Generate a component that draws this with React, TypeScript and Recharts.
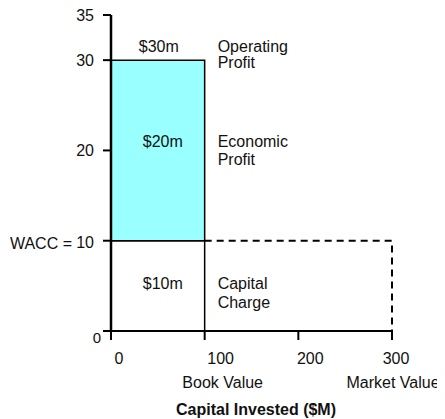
import React from "react";
import {
  ComposedChart,
  XAxis,
  YAxis,
  Line,
  ReferenceArea,
  Label,
} from "recharts";

// values
const X_TICKS = [0, 100, 200, 300];
const X_TICK_NOTES = ["", "Book Value", "", "Market Value"];
const Y_TICKS = [0, 10, 20, 30, 35];

const BOOK_VALUE = 100;
const MARKET_VALUE = 300;
const WACC = 10;
const OPERATING_PROFIT = 30;
const CAPITAL_CHARGE = (WACC / 100) * BOOK_VALUE;
const ECONOMIC_PROFIT = OPERATING_PROFIT - CAPITAL_CHARGE;

// dashed outline of the capital charge at market value
const MARKET_OUTLINE = [
  { cap: BOOK_VALUE, v: WACC },
  { cap: MARKET_VALUE, v: WACC },
  { cap: MARKET_VALUE, v: 0 },
];

const FONT = '"Liberation Sans", Arial, sans-serif';
const CYAN = "#99FFFF";
const X_LABEL_SHIFT = [8, 16, 12, 4];
const X_NOTE_SHIFT = [0, 18, 0, 1];

const money = (v: number) => `$${v}m`;

const YTick = ({ x, y, payload }: any) => {
  const v = payload.value;
  if (v === 0) {
    return (
      <text x={x + 7} y={y + 12} textAnchor="end" fontSize={15} fill="#111">
        0
      </text>
    );
  }
  return (
    <g>
      <text x={x} y={y + 5.5 + (v === WACC ? 2 : 0)} textAnchor="end" fontSize={16} fill="#111">
        {v}
      </text>
      {v === WACC && (
        <text x={x - 22} y={y + 8.5} textAnchor="end" fontSize={16} fill="#111">
          WACC =
        </text>
      )}
    </g>
  );
};

const XTick = ({ x, y, payload, index }: any) => {
  const i = X_TICKS.indexOf(payload.value);
  const k = i >= 0 ? i : index;
  return (
    <g>
      <text x={x + X_LABEL_SHIFT[k]} y={y + 21.6} textAnchor="middle" fontSize={16} fill="#111">
        {payload.value}
      </text>
      {X_TICK_NOTES[k] && (
        <text x={x + X_NOTE_SHIFT[k]} y={y + 45.6} textAnchor="middle" fontSize={16} fill="#111">
          {X_TICK_NOTES[k]}
        </text>
      )}
    </g>
  );
};

// text next to / inside a reference area
const note =
  (lines: string[], opts: { side?: boolean; at?: "top" | "mid"; dx?: number; dy: number; gap?: number }) =>
  (p: any) => {
    const vb = p.viewBox || {};
    const bx = opts.side ? vb.x + vb.width + 13 : vb.x + vb.width / 2 + (opts.dx || 0);
    const by = (opts.at === "top" ? vb.y : vb.y + vb.height / 2) + opts.dy;
    return (
      <text
        x={bx}
        y={by}
        textAnchor={opts.side ? "start" : "middle"}
        fontSize={16}
        fill="#111"
        fontFamily={FONT}
      >
        {lines.map((l, i) => (
          <tspan key={i} x={bx} dy={i === 0 ? 0 : opts.gap || 16}>
            {l}
          </tspan>
        ))}
      </text>
    );
  };

const AxisTitle = (p: any) => {
  const vb = p.viewBox || {};
  return (
    <text
      x={vb.x + vb.width / 2 + 4.5}
      y={vb.y + 83.6}
      textAnchor="middle"
      fontSize={16}
      fontWeight="bold"
      fill="#111"
      fontFamily={FONT}
    >
      Capital Invested ($M)
    </text>
  );
};

export default function App() {
  return (
    <div style={{ fontFamily: FONT }}>
      <ComposedChart
        width={437}
        height={411}
        data={MARKET_OUTLINE}
        margin={{ top: 7, right: 53, bottom: 28, left: 43 }}
        style={{ fontFamily: FONT }}
      >
        <XAxis
          dataKey="cap"
          type="number"
          domain={[0, MARKET_VALUE]}
          ticks={X_TICKS}
          interval={0}
          height={60}
          tickSize={9}
          tickMargin={2}
          axisLine={{ stroke: "#000", strokeWidth: 2 }}
          tickLine={{ stroke: "#000", strokeWidth: 2 }}
          tick={<XTick />}
          label={<Label content={AxisTitle} />}
        />
        <YAxis
          type="number"
          domain={[0, 35]}
          ticks={Y_TICKS}
          interval={0}
          width={60}
          tickSize={8}
          tickMargin={9}
          axisLine={{ stroke: "#000", strokeWidth: 2.5 }}
          tickLine={{ stroke: "#000", strokeWidth: 2 }}
          tick={<YTick />}
        />
        <ReferenceArea
          x1={0}
          x2={BOOK_VALUE}
          y1={0}
          y2={CAPITAL_CHARGE}
          fill="#fff"
          fillOpacity={1}
          stroke="#000"
          strokeWidth={1.5}
          ifOverflow="visible"
        >
          <Label content={note([money(CAPITAL_CHARGE)], { dx: 5, dy: 2.7 })} />
          <Label content={note(["Capital", "Charge"], { side: true, dy: 2.7, gap: 19 })} />
        </ReferenceArea>
        <ReferenceArea
          x1={0}
          x2={BOOK_VALUE}
          y1={CAPITAL_CHARGE}
          y2={OPERATING_PROFIT}
          fill={CYAN}
          fillOpacity={1}
          stroke="#000"
          strokeWidth={1.5}
          ifOverflow="visible"
        >
          <Label content={note([money(ECONOMIC_PROFIT)], { dx: 5, dy: -3 })} />
          <Label content={note(["Economic", "Profit"], { side: true, dy: -3, gap: 18 })} />
          <Label content={note([money(OPERATING_PROFIT)], { at: "top", dx: 1, dy: -8.5 })} />
          <Label content={note(["Operating", "Profit"], { side: true, at: "top", dy: -8.5, gap: 16 })} />
        </ReferenceArea>
        <Line
          dataKey="v"
          type="linear"
          stroke="#000"
          strokeWidth={2}
          strokeDasharray="7 5"
          dot={false}
          activeDot={false}
          isAnimationActive={false}
        />
      </ComposedChart>
    </div>
  );
}
